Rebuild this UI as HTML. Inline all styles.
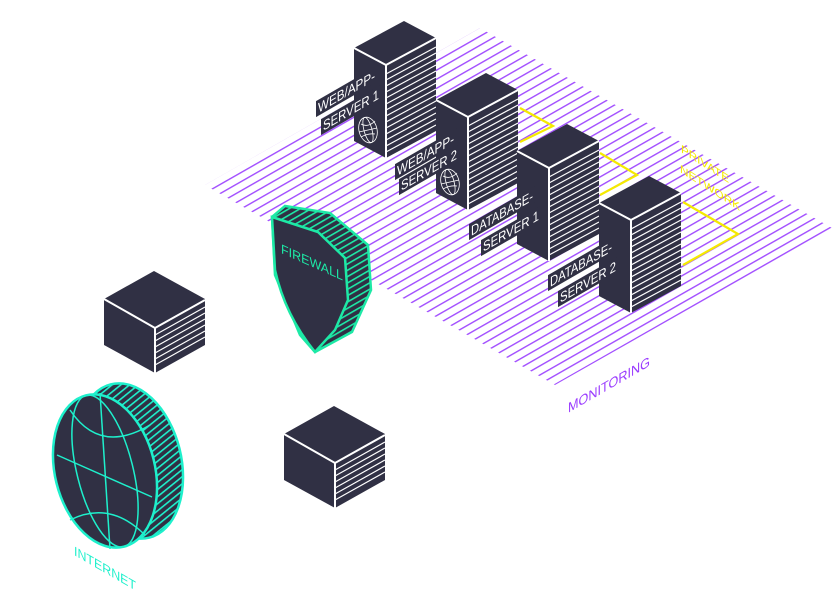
<!DOCTYPE html>
<html><head><meta charset="utf-8"><style>
html,body{margin:0;padding:0;background:#fff;}
svg{display:block}
text{font-family:"Liberation Sans",sans-serif;}
</style></head><body>
<svg width="832" height="592" viewBox="0 0 832 592" xmlns="http://www.w3.org/2000/svg">
<defs>
<pattern id="pl" width="20" height="7.9" patternUnits="userSpaceOnUse" patternTransform="rotate(-29.7)">
<rect x="0" y="0" width="20" height="1.4" fill="#a14dff"/>
</pattern>
<pattern id="gst" width="8" height="5.5" patternUnits="userSpaceOnUse" patternTransform="rotate(-30)">
<rect x="0" y="0" width="8" height="5.5" fill="#303044"/>
<rect x="0" y="0" width="8" height="1.6" fill="#1de9a6"/>
</pattern>
<pattern id="cst" width="8" height="5.5" patternUnits="userSpaceOnUse" patternTransform="rotate(-25)">
<rect x="0" y="0" width="8" height="5.5" fill="#303044"/>
<rect x="0" y="0" width="8" height="1.6" fill="#1ef0cc"/>
</pattern>
<g id="srv">
<polygon points="0,0 -32,-17 -32,76 0,93" fill="#303044"/>
<polygon points="0,0 50,-27 50,66 0,93" fill="#303044"/>
<polygon points="0,0 -32,-17 18,-44 50,-27" fill="#303044"/>
<g stroke="#fff" stroke-width="1.2">
<line x1="0" y1="9" x2="50" y2="-18"/><line x1="0" y1="15" x2="50" y2="-12"/><line x1="0" y1="21" x2="50" y2="-6"/><line x1="0" y1="27" x2="50" y2="0"/><line x1="0" y1="33" x2="50" y2="6"/><line x1="0" y1="39" x2="50" y2="12"/><line x1="0" y1="45" x2="50" y2="18"/><line x1="0" y1="51" x2="50" y2="24"/><line x1="0" y1="57" x2="50" y2="30"/><line x1="0" y1="63" x2="50" y2="36"/><line x1="0" y1="69" x2="50" y2="42"/><line x1="0" y1="75" x2="50" y2="48"/><line x1="0" y1="81" x2="50" y2="54"/><line x1="0" y1="87" x2="50" y2="60"/>
</g>
<polyline points="-32,-17 0,0 50,-27" fill="none" stroke="#fff" stroke-width="2"/>
<line x1="0" y1="0" x2="0" y2="93" stroke="#fff" stroke-width="2"/>
</g>
<g id="globeicon" fill="none" stroke="#fff" stroke-width="0.8">
<ellipse cx="0" cy="0" rx="9" ry="13" transform="rotate(-15)"/>
<ellipse cx="0" cy="0" rx="4" ry="13" transform="rotate(-15)"/>
<line x1="-9" y1="2" x2="9" y2="-2"/>
<path d="M-7,-6 Q0,-2 7,-9"/><path d="M-7,7 Q0,3 7,4"/>
</g>
</defs>

<polygon points="205,185 480,28 832,228 555,385" fill="url(#pl)"/>

<g stroke="#f5ea00" stroke-width="2.2" fill="none">
<polyline points="520,108 553,126 520,142"/>
<polyline points="600,153 637,175 600,195"/>
<polyline points="683,202 738,234 683,265"/>
</g>
<text transform="translate(681,152) skewY(33)" font-size="11" fill="#f5ea00" textLength="48" lengthAdjust="spacingAndGlyphs">PRIVATE</text>
<text transform="translate(680,172) skewY(33)" font-size="11" fill="#f5ea00" textLength="60" lengthAdjust="spacingAndGlyphs">NETWORK</text>

<use href="#srv" x="386" y="65"/>
<use href="#globeicon" x="368" y="130"/>
<use href="#srv" x="468" y="117"/>
<use href="#globeicon" x="450" y="182"/>
<use href="#srv" x="549" y="168"/>
<use href="#srv" x="631" y="220"/>

<g font-size="14" fill="#fff">
<g transform="translate(318,113) skewY(-30)"><rect x="-2" y="-13" width="62" height="16" fill="#303044"/><text textLength="57" lengthAdjust="spacingAndGlyphs">WEB/APP-</text></g>
<g transform="translate(323,131) skewY(-30)"><rect x="-2" y="-13" width="60" height="16" fill="#303044"/><text textLength="56" lengthAdjust="spacingAndGlyphs">SERVER 1</text></g>
<g transform="translate(397,176) skewY(-30)"><rect x="-2" y="-13" width="62" height="16" fill="#303044"/><text textLength="57" lengthAdjust="spacingAndGlyphs">WEB/APP-</text></g>
<g transform="translate(401,191) skewY(-30)"><rect x="-2" y="-13" width="60" height="16" fill="#303044"/><text textLength="56" lengthAdjust="spacingAndGlyphs">SERVER 2</text></g>
<g transform="translate(471,236) skewY(-30)"><rect x="-2" y="-13" width="66" height="16" fill="#303044"/><text textLength="62" lengthAdjust="spacingAndGlyphs">DATABASE-</text></g>
<g transform="translate(483,252) skewY(-30)"><rect x="-2" y="-13" width="60" height="16" fill="#303044"/><text textLength="56" lengthAdjust="spacingAndGlyphs">SERVER 1</text></g>
<g transform="translate(550,287) skewY(-30)"><rect x="-2" y="-13" width="66" height="16" fill="#303044"/><text textLength="62" lengthAdjust="spacingAndGlyphs">DATABASE-</text></g>
<g transform="translate(560,303) skewY(-30)"><rect x="-2" y="-13" width="60" height="16" fill="#303044"/><text textLength="56" lengthAdjust="spacingAndGlyphs">SERVER 2</text></g>
</g>

<text transform="translate(568,413) skewY(-30)" font-size="14" fill="#9b3dff" textLength="82" lengthAdjust="spacingAndGlyphs">MONITORING</text>

<path d="M272,217 L285,206 L330,213 L368,245 L371,290 L352,332 L315,352 L300,335 L275,275 Z" fill="url(#gst)" stroke="#1de9a6" stroke-width="2.5"/>
<path d="M272,217 L318,232 L345,258 L348,300 L335,330 L315,352 Q285,315 275,270 Z" fill="#303044" stroke="#1de9a6" stroke-width="2.5"/>
<text transform="translate(281,253) skewY(24)" font-size="13" fill="#1de9a6" textLength="62" lengthAdjust="spacingAndGlyphs">FIREWALL</text>

<g id="box1">
<polygon points="154,271 104,299 104,345 155,373 205,345 205,299" fill="#303044"/>
<g stroke="#fff" stroke-width="1.2">
<line x1="155" y1="335" x2="205" y2="307"/><line x1="155" y1="341" x2="205" y2="313"/><line x1="155" y1="347" x2="205" y2="319"/><line x1="155" y1="353" x2="205" y2="325"/><line x1="155" y1="359" x2="205" y2="331"/><line x1="155" y1="365" x2="205" y2="337"/>
</g>
<polyline points="104,299 155,328 205,300" fill="none" stroke="#fff" stroke-width="2"/>
<line x1="155" y1="328" x2="155" y2="373" stroke="#fff" stroke-width="2"/>
</g>
<use href="#box1" x="180" y="135"/>

<g>
<path d="M92,394 L120,383 L182,470 L150,535 L125,540 Z" fill="url(#cst)"/>
<ellipse cx="130" cy="461" rx="51" ry="79" transform="rotate(-14 130 461)" fill="url(#cst)" stroke="#1ef0cc" stroke-width="2.5"/>
<ellipse cx="105" cy="471" rx="50" ry="78" transform="rotate(-14 105 471)" fill="#303044" stroke="#1ef0cc" stroke-width="2.5"/>
<g fill="none" stroke="#1ef0cc" stroke-width="1.5">
<ellipse cx="105" cy="471" rx="28" ry="78" transform="rotate(-14 105 471)"/>
<line x1="100" y1="393" x2="110" y2="549"/>
<line x1="57" y1="455" x2="152" y2="497"/>
<path d="M70,410 Q100,455 150,425"/>
<path d="M70,520 Q110,500 145,535"/>
</g>
</g>
<text transform="translate(74,555) skewY(30)" font-size="13" fill="#1ef0cc" textLength="62" lengthAdjust="spacingAndGlyphs">INTERNET</text>
</svg>
</body></html>
